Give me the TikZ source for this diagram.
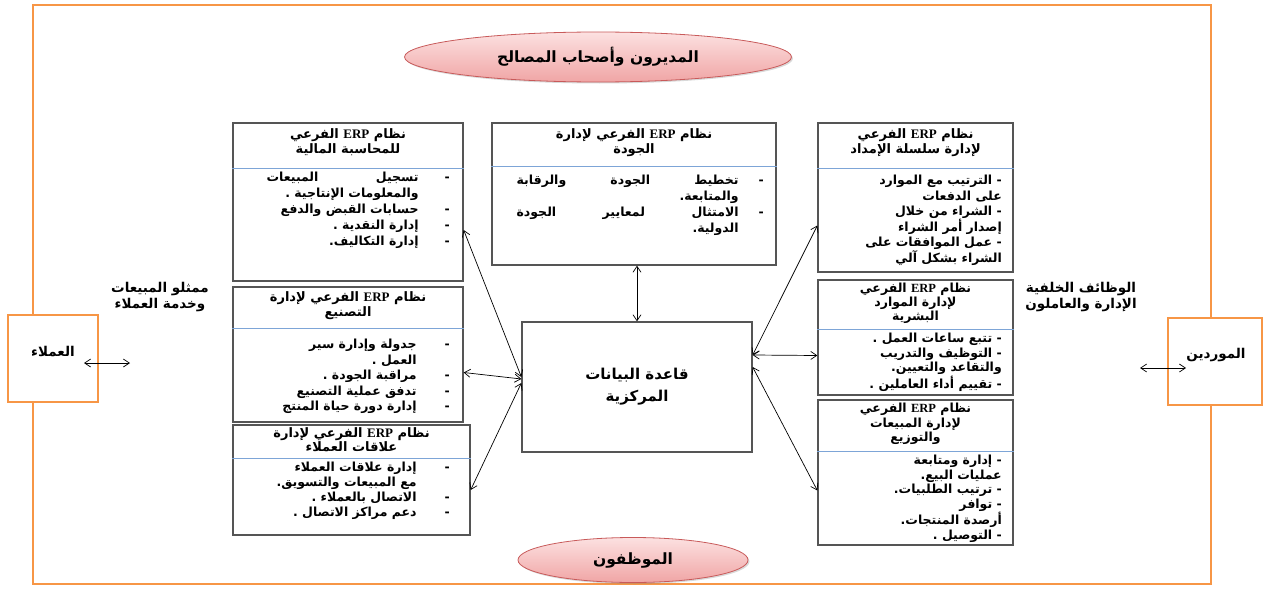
\documentclass[tikz,border=0pt]{standalone}
\usepackage{fontspec}
\setmainfont{Liberation Serif}
\newfontfamily\arfont[Script=Arabic]{DejaVu Sans}
\TeXXeTstate=1
\usetikzlibrary{shapes.geometric,arrows.meta,shadows}
\definecolor{frameorange}{RGB}{247,150,70}
\definecolor{boxgray}{RGB}{85,85,85}
\definecolor{sepblue}{RGB}{125,165,215}
\definecolor{ovalred}{RGB}{200,90,90}
\definecolor{ovaltop}{RGB}{252,225,225}
\definecolor{ovalbot}{RGB}{240,165,165}
\newcommand{\ar}[1]{\beginR #1\endR}
\newcommand{\erp}{\beginL{\normalfont\bfseries ERP}\endL}
\newcommand{\bul}[1]{-\hspace{#1}}
\newcommand{\hang}[1]{\phantom{-}\hspace{#1}}
\newcommand{\spread}[2]{\makebox[#1]{\beginR #2\endR}}
\tikzset{
  frame/.style={draw=frameorange, line width=2pt},
  side/.style={draw=frameorange, line width=2pt, fill=white},
  sub/.style={draw=boxgray, line width=1.3pt, fill=white, inner sep=0pt},
  sep/.style={draw=sepblue, line width=0.9pt},
  ttl/.style={font=\arfont\bfseries\fontsize{13}{15.5}\selectfont, align=center, anchor=north, inner sep=0pt},
  itms/.style={font=\arfont\bfseries\fontsize{12.5}{16}\selectfont, align=right, anchor=north east, inner sep=0pt},
  lbl/.style={font=\arfont\bfseries\fontsize{13.5}{16}\selectfont, align=center, inner sep=0pt},
  oval/.style={ellipse, draw=ovalred, line width=0.8pt, top color=ovaltop, bottom color=ovalbot,
    drop shadow={shadow xshift=1.5pt, shadow yshift=-1.5pt, opacity=0.3},
    font=\arfont\bfseries\fontsize{15.5}{18}\selectfont},
  arr/.style={{Straight Barb[length=6pt,width=8pt]}-{Straight Barb[length=6pt,width=8pt]}, line width=0.7pt}
}
\begin{document}
\begin{tikzpicture}[x=1pt,y=-1pt]
\useasboundingbox (0,0) rectangle (1266,594);
\draw[frame] (33,5) rectangle (1211,584);

\node (mgr) [oval, minimum width=387pt, minimum height=50pt] at (598,57) {\ar{المديرون وأصحاب المصالح}};
\node (emp) [oval, minimum width=230pt, minimum height=45pt] at (633,560) {\ar{الموظفون}};

\node (cust) [side, minimum width=90pt, minimum height=87pt] at (53,358.5) {};
\node (custT) [lbl] at (53,352) {\ar{العملاء}};
\node (supp) [side, minimum width=94pt, minimum height=87pt] at (1215,361.5) {};
\node (suppT) [lbl] at (1216,355) {\ar{الموردين}};
\node (custL) [lbl] at (160,297) {\ar{ممثلو المبيعات}\\\ar{وخدمة العملاء}};
\node (suppL) [lbl] at (1081,297) {\ar{الوظائف الخلفية}\\\ar{الإدارة والعاملون}};

\node (acc) [sub, minimum width=230pt, minimum height=158pt] at (348,202) {};
\node (accT) [ttl] at (348,128) {\ar{نظام \erp{} الفرعي}\\\ar{للمحاسبة المالية}};
\draw[sep] (acc.west |- 0,168) -- (acc.east |- 0,168);
\node (accI) [itms] at (450,172) {\ar{\bul{26pt}\spread{152pt}{تسجيل\hfill المبيعات}}\\
  \ar{\hang{26pt}والمعلومات الإنتاجية .}\\
  \ar{\bul{26pt}حسابات القبض والدفع}\\
  \ar{\bul{26pt}إدارة النقدية .}\\
  \ar{\bul{26pt}إدارة التكاليف.}};

\node (qual) [sub, minimum width=284pt, minimum height=142pt] at (634,194) {};
\node (qualT) [ttl] at (634,128) {\ar{نظام \erp{} الفرعي لإدارة}\\\ar{الجودة}};
\draw[sep] (qual.west |- 0,166) -- (qual.east |- 0,166);
\node (qualI) [itms] at (764,175) {\ar{\bul{20pt}\spread{222pt}{تخطيط\hfill الجودة\hfill والرقابة}}\\
  \ar{\hang{20pt}والمتابعة.}\\
  \ar{\bul{20pt}\spread{222pt}{الامتثال\hfill لمعايير\hfill الجودة}}\\
  \ar{\hang{20pt}الدولية.}};

\node (scm) [sub, minimum width=195pt, minimum height=149pt] at (915.5,197.5) {};
\node (scmT) [ttl] at (915.5,128) {\ar{نظام \erp{} الفرعي}\\\ar{لإدارة سلسلة الإمداد}};
\draw[sep] (scm.west |- 0,168) -- (scm.east |- 0,168);
\node[itms, font=\arfont\bfseries\fontsize{12.5}{15.5}\selectfont] (scmI) at (1002,175) {\ar{- الترتيب مع الموارد}\\
  \ar{على الدفعات}\\
  \ar{- الشراء من خلال}\\
  \ar{إصدار أمر الشراء}\\
  \ar{- عمل الموافقات على}\\
  \ar{الشراء بشكل آلي}};

\node (mfg) [sub, minimum width=230pt, minimum height=135pt] at (348,354.5) {};
\node (mfgT) [ttl] at (348,291) {\ar{نظام \erp{} الفرعي لإدارة}\\\ar{التصنيع}};
\draw[sep] (mfg.west |- 0,328) -- (mfg.east |- 0,328);
\node[itms, font=\arfont\bfseries\fontsize{12.5}{15.5}\selectfont] (mfgI) at (450,339) {\ar{\bul{28pt}جدولة وإدارة سير}\\
  \ar{\hang{28pt}العمل .}\\
  \ar{\bul{28pt}مراقبة الجودة .}\\
  \ar{\bul{28pt}تدفق عملية التصنيع}\\
  \ar{\bul{28pt}إدارة دورة حياة المنتج}};

\node (hr) [sub, minimum width=195pt, minimum height=115pt] at (915.5,337.5) {};
\node[ttl, font=\arfont\bfseries\fontsize{12.5}{14}\selectfont] (hrT) at (915.5,283) {\ar{نظام \erp{} الفرعي}\\\ar{لإدارة الموارد}\\\ar{البشرية}};
\draw[sep] (hr.west |- 0,329) -- (hr.east |- 0,329);
\node[itms, font=\arfont\bfseries\fontsize{12.5}{14.5}\selectfont] (hrI) at (1002,333) {\ar{- تتبع ساعات العمل .}\\
  \ar{- التوظيف والتدريب}\\
  \ar{والتقاعد والتعيين.}\\
  \ar{- تقييم أداء العاملين .}};

\node (crm) [sub, minimum width=237pt, minimum height=110pt] at (351.5,480) {};
\node[ttl, font=\arfont\bfseries\fontsize{13}{14}\selectfont] (crmT) at (351.5,427) {\ar{نظام \erp{} الفرعي لإدارة}\\\ar{علاقات العملاء}};
\draw[sep] (crm.west |- 0,458) -- (crm.east |- 0,458);
\node[itms, font=\arfont\bfseries\fontsize{12.5}{15}\selectfont] (crmI) at (450,462) {\ar{\bul{28pt}إدارة علاقات العملاء}\\
  \ar{\hang{28pt}مع المبيعات والتسويق.}\\
  \ar{\bul{28pt}الاتصال بالعملاء .}\\
  \ar{\bul{28pt}دعم مراكز الاتصال .}};

\node (sd) [sub, minimum width=195pt, minimum height=145pt] at (915.5,472.5) {};
\node[ttl, font=\arfont\bfseries\fontsize{12.5}{14.5}\selectfont] (sdT) at (915.5,403) {\ar{نظام \erp{} الفرعي}\\\ar{لإدارة المبيعات}\\\ar{والتوزيع}};
\draw[sep] (sd.west |- 0,451) -- (sd.east |- 0,451);
\node[itms, font=\arfont\bfseries\fontsize{12.5}{14.5}\selectfont] (sdI) at (1002,455) {\ar{- إدارة ومتابعة}\\
  \ar{عمليات البيع.}\\
  \ar{- ترتيب الطلبيات.}\\
  \ar{- توافر}\\
  \ar{أرصدة المنتجات.}\\
  \ar{- التوصيل .}};

\node (db) [sub, minimum width=230pt, minimum height=130pt,
  font=\arfont\bfseries\fontsize{15}{22}\selectfont, align=center] at (637,387)
  {\ar{قاعدة البيانات}\\\ar{المركزية}};

\draw[arr] (db.north) -- (db.north |- qual.south);
\draw[arr] ([yshift=-28pt]acc.east) -- ([yshift=10pt]db.west);
\draw[arr] ([yshift=-18pt]mfg.east) -- ([yshift=8pt]db.west);
\draw[arr] ([yshift=-10pt]crm.east) -- ([yshift=4pt]db.west);
\draw[arr] ([yshift=-28pt]scm.west) -- ([yshift=32pt]db.east);
\draw[arr] ([yshift=-18pt]hr.west) -- ([yshift=32pt]db.east);
\draw[arr] ([yshift=-18pt]sd.west) -- ([yshift=20pt]db.east);

\coordinate (custR) at (130,363);
\coordinate (suppL) at (1140,368);
\draw[arr, shorten >=-15pt] (custR) -- (custR -| cust.east);
\draw[arr, shorten >=-19pt] (suppL) -- (suppL -| supp.west);
\end{tikzpicture}
\end{document}
